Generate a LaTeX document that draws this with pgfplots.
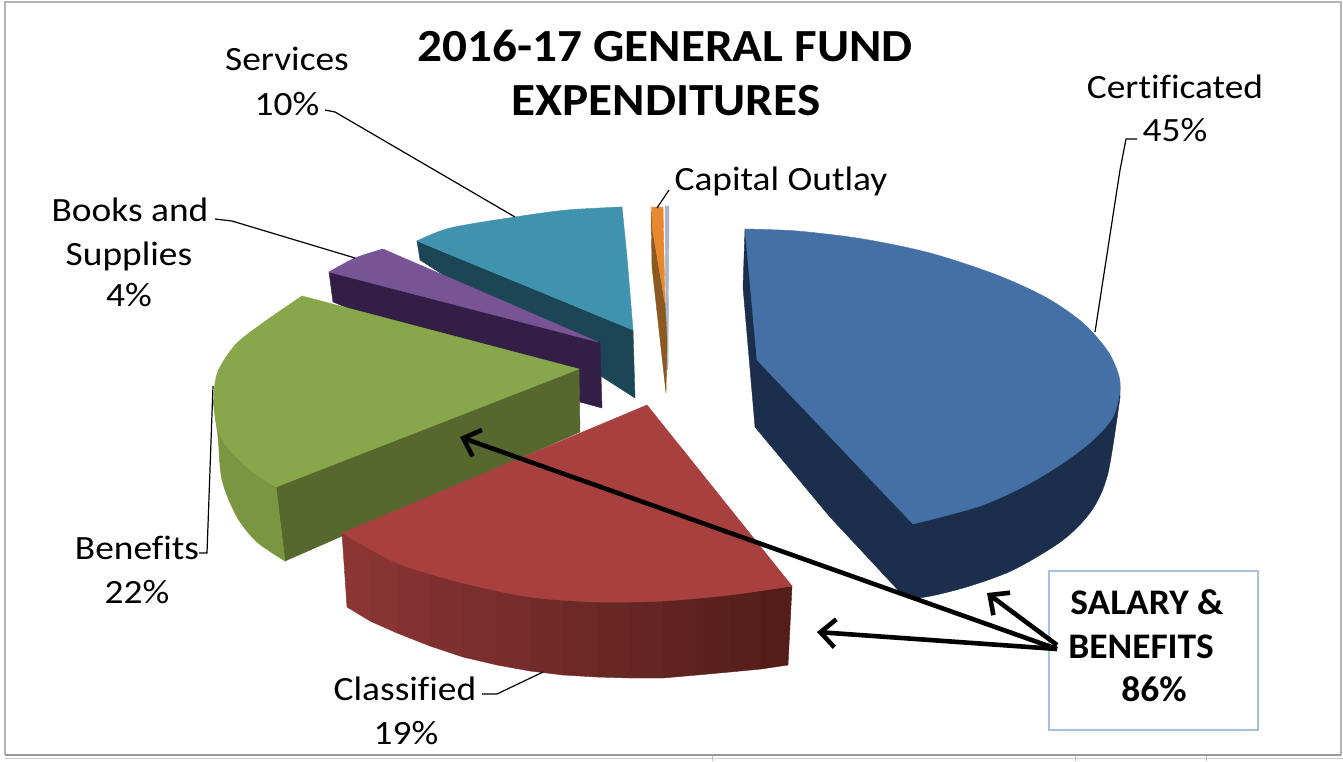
\documentclass[border=0pt]{standalone}
\usepackage{pgfplots}
\pgfplotsset{compat=1.18}
\usepackage{fontspec}
\setmainfont[Ligatures=NoCommon]{Carlito}
\usetikzlibrary{arrows.meta}
\definecolor{bluetop}{HTML}{4570A5}
\definecolor{blueside}{HTML}{1B2F4C}
\definecolor{redtop}{HTML}{A8403F}
\definecolor{greentop}{HTML}{88A64A}
\definecolor{greenout}{HTML}{7A9640}
\definecolor{greenside}{HTML}{56682E}
\definecolor{purpletop}{HTML}{785496}
\definecolor{purpleside}{HTML}{331F45}
\definecolor{tealtop}{HTML}{3F93AE}
\definecolor{tealside}{HTML}{1C4655}
\definecolor{framegray}{HTML}{B4B4B4}
\definecolor{boxblue}{HTML}{A7C0E0}
\definecolor{orangetop}{HTML}{E8892F}
\definecolor{orangeside}{HTML}{8A5A20}
\definecolor{capgray}{HTML}{ABB4C8}
\newcommand{\poly}[2]{\addplot[fill=#1,draw=#1,line width=0.4pt] coordinates {#2} -- cycle;}
\newcommand{\arcfill}[2]{\addplot[smooth,fill=#1,draw=#1,line width=0.4pt] coordinates {#2} -- cycle;}
\newcommand{\leader}[1]{\addplot[black,line width=1.2pt,line join=miter] coordinates {#1};}
\newcommand{\thick}[1]{\addplot[black,line width=4.6pt,-{Straight Barb[length=15pt,width=28pt,line width=4.6pt]}] coordinates {#1};}
\newcommand{\lab}[3]{\node[anchor=base,inner sep=0pt,xscale=1.10] at (axis cs:#1,#2) {\fontsize{34}{34}\selectfont #3};}
\newcommand{\blab}[3]{\node[anchor=base,inner sep=0pt,xscale=1.04] at (axis cs:#1,#2) {\fontsize{36}{36}\selectfont\bfseries #3};}
\begin{document}
\begin{tikzpicture}
\begin{axis}[scale only axis,width=1343pt,height=761pt,xmin=0,xmax=1343,ymin=0,ymax=761,y dir=reverse,hide axis,clip=true]
% background
\addplot[fill=white,draw=none] coordinates {(0,0)(1343,0)(1343,761)(0,761)} -- cycle;
% frame
\addplot[framegray,line width=1.5pt] coordinates {(5,755)(5,2)(1341,2)(1341,755)};
\addplot[gray!80,line width=2pt] coordinates {(5,755)(1341,755)};
\addplot[gray!40,line width=1pt] coordinates {(5,758)(1343,758)};
\addplot[gray!50,line width=1pt] coordinates {(712,756)(712,761)};
\addplot[gray!50,line width=1pt] coordinates {(1075,756)(1075,761)};
\addplot[gray!50,line width=1pt] coordinates {(1206,756)(1206,761)};
% Services (teal)
\poly{tealside}{(417,241)(420,260)(635,398)(633,330)}
\poly{tealtop}{(417,241)(515,220)(622,207)(627,257)(633,330)}
\arcfill{tealtop}{(417,241)(450,228)(515,217)(567,210)(622,207)}
% Books and Supplies (purple)
\poly{purpleside}{(329,272)(600,342)(602,408)(580,402)(333,302)}
\poly{purpletop}{(329,272)(383,249)(598,342)}
\arcfill{purpletop}{(329,272)(355,258)(383,249)}
% Benefits (green)
\poly{greenside}{(276,487)(579,369)(580,432)(285,561)}
\poly{greenout}{(213,400)(230,480)(285,561)(276,487)}
\arcfill{greenout}{(213,400)(218,437)(222,480)(237,517)(257,542)(285,561)}
\poly{greentop}{(302,296)(225,390)(276,487)(579,369)}
\arcfill{greentop}{(302,296)(267,320)(237,343)(220,367)(215,383)(214,403)(217,427)(227,447)(250,470)(276,487)}
% Capital Outlay (orange + grey)
\poly{capgray}{(665,206)(669,206)(668,370)(666,370)}
\poly{orangeside}{(651,206)(652,267)(666,393)(667,340)(665,303)(652,227)}
\poly{orangetop}{(652,207)(663,207)(665,303)(652,227)}
% Certificated (blue)
\poly{blueside}{(745,229)(743,287)(755,427)(830,517)(898,590)(1000,560)(1120,397)(1120,387)}
\arcfill{blueside}{(1120,397)(1108,473)(1092,510)(1063,540)(1013,570)(963,588)(917,598)(898,590)}
\poly{bluetop}{(745,229)(1000,450)(913,524)(757,360)}
\arcfill{bluetop}{(745,229)(797,231)(863,239)(930,253)(997,275)(1047,298)(1083,323)(1107,350)(1118,373)(1120,390)(1113,417)(1093,440)(1063,463)(1023,487)(977,507)(913,524)}
% Classified (red)
\poly{{rgb,255:red,139;green,54;blue,53}}{(342,533)(370,544)(370,621)(347,607)}
\poly{{rgb,255:red,135;green,52;blue,51}}{(370,544)(397,558)(397,633)(370,621)}
\poly{{rgb,255:red,131;green,50;blue,49}}{(397,558)(430,569)(430,646)(397,633)}
\poly{{rgb,255:red,126;green,48;blue,47}}{(430,569)(463,578)(463,657)(430,646)}
\poly{{rgb,255:red,122;green,46;blue,45}}{(463,578)(497,586)(497,665)(463,657)}
\poly{{rgb,255:red,118;green,45;blue,43}}{(497,586)(530,592)(530,671)(497,665)}
\poly{{rgb,255:red,114;green,43;blue,41}}{(530,592)(563,595)(563,675)(530,671)}
\poly{{rgb,255:red,109;green,41;blue,38}}{(563,595)(597,597)(597,677)(563,675)}
\poly{{rgb,255:red,105;green,39;blue,36}}{(597,597)(630,597)(630,678)(597,677)}
\poly{{rgb,255:red,101;green,37;blue,34}}{(630,597)(663,596)(663,678)(630,678)}
\poly{{rgb,255:red,97;green,35;blue,32}}{(663,596)(697,593)(697,675)(663,678)}
\poly{{rgb,255:red,92;green,33;blue,30}}{(697,593)(730,590)(730,672)(697,675)}
\poly{{rgb,255:red,88;green,31;blue,28}}{(730,590)(761,586)(761,669)(730,672)}
\poly{{rgb,255:red,84;green,29;blue,26}}{(761,586)(792,586)(788,665)(761,669)}
\arcfill{redtop}{(342,533)(397,563)(463,583)(530,597)(597,602)(663,601)(730,595)(792,586)}
\poly{redtop}{(647,405)(342,533)(463,575)(597,595)(792,586)}
% leaders
\leader{(1095,332)(1120,170)(1126,139)(1137,139)}
\leader{(325,110)(335,112)(515,217)}
\leader{(215,219)(232,221)(355,258)}
\leader{(199,553)(207,553)(213,386)}
\leader{(482,694)(497,694)(543,672)}
\leader{(669,190)(657,208)}
% box
\addplot[boxblue,line width=1.8pt] coordinates {(1049,571)(1258,571)(1258,730)(1049,730)} -- cycle;
% arrows
\thick{(1057,649)(460,437)}
\thick{(1057,645)(987,593)}
\thick{(1057,649)(817,632)}
% text
\node[anchor=base,inner sep=0pt,xscale=1.07] at (axis cs:665,61) {\fontsize{46}{46}\selectfont\bfseries 2016-17 GENERAL FUND};
\node[anchor=base,inner sep=0pt,xscale=1.07] at (axis cs:666,115) {\fontsize{46}{46}\selectfont\bfseries EXPENDITURES};
\lab{287}{70}{Services}
\lab{287}{115}{10\%}
\lab{1175}{98}{Certificated}
\lab{1175}{141}{45\%}
\lab{781}{190}{Capital Outlay}
\lab{130}{221}{Books and}
\lab{129}{265}{Supplies}
\lab{129}{306}{4\%}
\lab{137}{559}{Benefits}
\lab{137}{603}{22\%}
\lab{405}{700}{Classified}
\lab{406}{744}{19\%}
\blab{1147}{614}{SALARY \&}
\blab{1141}{658}{BENEFITS}
\blab{1154}{701}{86\%}
\end{axis}
\end{tikzpicture}
\end{document}
